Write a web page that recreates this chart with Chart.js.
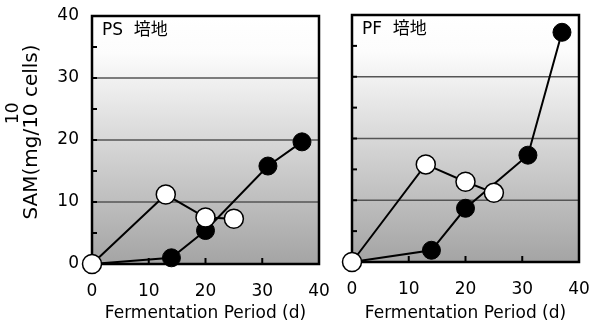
<!DOCTYPE html>
<html>
<head>
<meta charset="utf-8">
<script src="https://cdn.jsdelivr.net/npm/chart.js@4.4.1/dist/chart.umd.min.js"></script>
<style>
  html, body { margin: 0; padding: 0; background: #fff; }
  #wrap { position: relative; width: 590px; height: 324px; }
  #c1 { position: absolute; left: 0; top: 0; }
  #c2 { position: absolute; left: 330px; top: 0; }
</style>
</head>
<body>
<div id="wrap">
  <canvas id="c1" width="330" height="324"></canvas>
  <canvas id="c2" width="260" height="324"></canvas>
</div>
<script>
// 発酵日数 (d)
const daysFilled = [0, 14, 20, 31, 37];
const daysOpen = [0, 13, 20, 25];

// PS 培地
const psFilled = [0, 1.0, 5.4, 15.8, 19.7];
const psOpen = [0, 11.2, 7.5, 7.3];

// PF 培地
const pfFilled = [0, 1.9, 8.7, 17.3, 37.2];
const pfOpen = [0, 15.8, 13.0, 11.2];

const xTicks = [0, 10, 20, 30, 40];
const yTicks = [0, 10, 20, 30, 40];

const FONT = "'DejaVu Sans', 'Noto Sans CJK JP', sans-serif";

function toPoints(xs, ys) {
  return xs.map((x, i) => ({ x: x, y: ys[i] }));
}

// 背景グラデーション・枠・内向き目盛り・パネル名
const panelPlugin = {
  id: 'panel',
  beforeDatasetsDraw(chart, args, opts) {
    const { ctx, chartArea: a, scales } = chart;
    ctx.save();
    const g = ctx.createLinearGradient(0, a.top, 0, a.bottom);
    g.addColorStop(0, '#ffffff');
    g.addColorStop(0.15, '#fcfcfc');
    g.addColorStop(1, '#a4a4a4');
    ctx.fillStyle = g;
    ctx.fillRect(a.left, a.top, a.right - a.left, a.bottom - a.top);

    // 横線 10,20,30
    ctx.strokeStyle = '#555';
    ctx.lineWidth = 1.5;
    [10, 20, 30].forEach(v => {
      const y = scales.y.getPixelForValue(v);
      ctx.beginPath();
      ctx.moveTo(a.left, y);
      ctx.lineTo(a.right, y);
      ctx.stroke();
    });

    // 目盛り
    ctx.strokeStyle = '#000';
    ctx.lineWidth = 2;
    for (let v = 5; v < 40; v += 5) {
      const y = scales.y.getPixelForValue(v);
      ctx.beginPath();
      ctx.moveTo(a.left, y);
      ctx.lineTo(a.left + 5, y);
      ctx.stroke();
    }
    [10, 20, 30].forEach(v => {
      const x = scales.x.getPixelForValue(v);
      ctx.beginPath();
      ctx.moveTo(x, a.bottom);
      ctx.lineTo(x, a.bottom - 6);
      ctx.stroke();
    });

    // 枠
    ctx.lineWidth = 2.5;
    ctx.strokeRect(a.left, a.top, a.right - a.left, a.bottom - a.top);

    // パネル名
    ctx.fillStyle = '#000';
    ctx.font = "17px " + FONT;
    ctx.textBaseline = 'middle';
    ctx.textAlign = 'left';
    ctx.fillText(opts.label, a.left + 10, a.top + 15);
    ctx.restore();
  }
};

// 縦軸タイトル (上付き 10 付き)
const yTitlePlugin = {
  id: 'ytitle',
  afterDraw(chart, args, opts) {
    if (!opts.show) return;
    const { ctx, chartArea: a } = chart;
    ctx.save();
    ctx.translate(32, 132);
    ctx.rotate(-Math.PI / 2);
    ctx.fillStyle = '#000';
    ctx.font = "20px " + FONT;
    ctx.textBaseline = 'middle';
    const p1 = 'SAM(mg/10';
    const p2 = ' cells)';
    const w1 = ctx.measureText(p1).width;
    const w2 = ctx.measureText(p2).width;
    const x0 = -(w1 + w2) / 2;
    ctx.textAlign = 'left';
    ctx.fillText(p1, x0, 0);
    ctx.fillText(p2, x0 + w1, 0);
    ctx.font = "17px " + FONT;
    const ws = ctx.measureText('10').width;
    ctx.fillText('10', x0 + w1 - ws + 1, -18);
    ctx.restore();
  }
};

function makeChart(id, label, filled, open, left) {
  return new Chart(document.getElementById(id), {
    type: 'scatter',
    data: {
      datasets: [
        {
          data: toPoints(daysOpen, open),
          showLine: true,
          borderColor: '#000',
          borderWidth: 2,
          pointBackgroundColor: '#fff',
          pointBorderColor: '#000',
          pointBorderWidth: 1.5,
          pointRadius: 9.5,
          clip: false
        },
        {
          data: toPoints(daysFilled, filled),
          showLine: true,
          borderColor: '#000',
          borderWidth: 2,
          pointBackgroundColor: '#000',
          pointBorderColor: '#000',
          pointBorderWidth: 1,
          pointRadius: 9,
          clip: false
        }
      ]
    },
    options: {
      responsive: false,
      animation: false,
      layout: { padding: { top: left ? 16 : 15, right: left ? 10 : 8, left: 0, bottom: 0 } },
      plugins: {
        legend: { display: false },
        tooltip: { enabled: false },
        panel: { label: label },
        ytitle: { show: left }
      },
      scales: {
        x: {
          type: 'linear',
          min: 0,
          max: 40,
          afterBuildTicks(scale) { scale.ticks = xTicks.map(v => ({ value: v })); },
          grid: { display: false, drawTicks: false },
          border: { display: false },
          ticks: { color: '#000', font: { size: 17, family: FONT }, padding: 17, maxRotation: 0 },
          title: {
            display: true,
            text: 'Fermentation Period (d)',
            color: '#000',
            font: { size: 17, family: FONT },
            padding: { top: 3, bottom: 0 }
          },
          afterFit(scale) {
            scale.height = left ? 60 : 62;
            scale.paddingLeft = 0;
            scale.paddingRight = 0;
          }
        },
        y: {
          type: 'linear',
          min: 0,
          max: 40,
          afterBuildTicks(scale) { scale.ticks = yTicks.map(v => ({ value: v })); },
          grid: { display: false, drawTicks: false },
          border: { display: false },
          ticks: { display: left, color: '#000', font: { size: 17, family: FONT }, padding: 13 },
          afterFit(scale) {
            scale.width = left ? 92 : 22;
            scale.paddingTop = 0;
            scale.paddingBottom = 0;
          }
        }
      }
    },
    plugins: [panelPlugin, yTitlePlugin]
  });
}

makeChart('c1', 'PS  培地', psFilled, psOpen, true);
makeChart('c2', 'PF  培地', pfFilled, pfOpen, false);
</script>
</body>
</html>
